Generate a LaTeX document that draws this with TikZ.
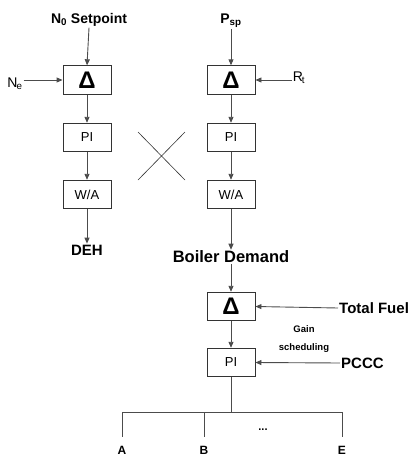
\documentclass[tikz,border=0pt]{standalone}
\usepackage{fontspec}
\setmainfont{Liberation Sans}
\usetikzlibrary{arrows.meta}
\begin{document}
\begin{tikzpicture}[x=1pt,y=-1pt,
  box/.style={draw=black!80,line width=0.9pt,minimum width=48pt,minimum height=28.5pt,inner sep=0pt},
  lbl/.style={inner sep=1pt,font=\bfseries\fontsize{14}{16}\selectfont},
  arr/.style={draw=black!70,line width=0.9pt,-{Triangle[length=6pt,width=5pt]}},
  ln/.style={draw=black!70,line width=0.9pt},
  dlt/.style={font=\bfseries\fontsize{24}{24}\selectfont},
  bx/.style={font=\fontsize{13}{14}\selectfont}]
\useasboundingbox (0,0) rectangle (414,459);
% left column
\node[box,dlt] (d1) at (87,80) {Δ};
\node[box,bx] (p1) at (87,137.5) {PI};
\node[box,bx] (w1) at (87,194.5) {W/A};
% right column
\node[box,dlt] (d2) at (231,80) {Δ};
\node[box,bx] (p2) at (231,137.5) {PI};
\node[box,bx] (w2) at (231,194.5) {W/A};
% bottom column
\node[box,dlt] (d3) at (231,306.5) {Δ};
\node[box,bx] (p3) at (231,362.5) {PI};
% labels
\node[lbl] (n0) at (89,20) {N\textsubscript{0} Setpoint};
\node[lbl] (psp) at (231,21) {P\textsubscript{sp}};
\node[inner sep=1pt,font=\fontsize{14}{16}\selectfont] (ne) at (15,84) {N\kern-1pt\textsubscript{e}};
\node[inner sep=1pt,font=\fontsize{14}{16}\selectfont] (rt) at (299,78) {R\kern-1pt\textsubscript{t}};
\node[lbl,font=\bfseries\fontsize{15}{17}\selectfont] (deh) at (87,250) {DEH};
\node[lbl,font=\bfseries\fontsize{16.5}{18}\selectfont] (bd) at (231,257) {Boiler Demand};
\node[lbl,font=\bfseries\fontsize{15}{17}\selectfont,anchor=west] (tf) at (338,308) {Total Fuel};
\node[lbl,font=\bfseries\fontsize{15}{17}\selectfont,anchor=west] (pc) at (340,363) {PCCC};
\node[inner sep=1pt,align=center,font=\bfseries\fontsize{9.5}{18}\selectfont] (gs) at (304,339) {Gain\\scheduling};
% arrows
\draw[arr] (n0.south) -- (d1.north);
\draw[arr] (ne.east |- d1) -- (d1.west);
\draw[arr] (d1) -- (p1);
\draw[arr] (p1) -- (w1);
\draw[arr] (w1.south) -- (deh.north);
\draw[arr] (psp.south) -- (d2.north);
\draw[arr] (rt.west |- d2) -- (d2.east);
\draw[arr] (d2) -- (p2);
\draw[arr] (p2) -- (w2);
\draw[arr] (w2.south) -- (bd.north);
\draw[arr] (bd.south) -- (d3.north);
\draw[arr] (tf.west) -- (d3.east);
\draw[arr] (pc.west) -- (p3.east);
\draw[arr] (d3) -- (p3);
% cross
\coordinate (c1) at (138,132);
\coordinate (c2) at (185,180);
\coordinate (c3) at (138,180);
\coordinate (c4) at (185,132);
\draw[line width=0.6pt,black!80] (c1) -- (c2) (c3) -- (c4);
% distribution
\coordinate (j) at (231,412);
\coordinate (ja) at (122,412);
\coordinate (jb) at (204,412);
\coordinate (je) at (342,412);
\node[lbl,font=\bfseries\fontsize{12}{14}\selectfont] (a) at (122,450) {A};
\node[lbl,font=\bfseries\fontsize{12}{14}\selectfont] (b) at (204,450) {B};
\node[lbl,font=\bfseries\fontsize{12}{14}\selectfont] (e) at (342,450) {E};
\node[lbl,font=\bfseries\fontsize{11}{13}\selectfont] (dots) at (263,430) {...};
\draw[ln] (p3.south) -- (j);
\draw[ln] (ja) -- (je);
\draw[ln] (ja) -- (ja |- 0,437);
\draw[ln] (jb) -- (jb |- 0,437);
\draw[ln] (je) -- (je |- 0,437);
\end{tikzpicture}
\end{document}
